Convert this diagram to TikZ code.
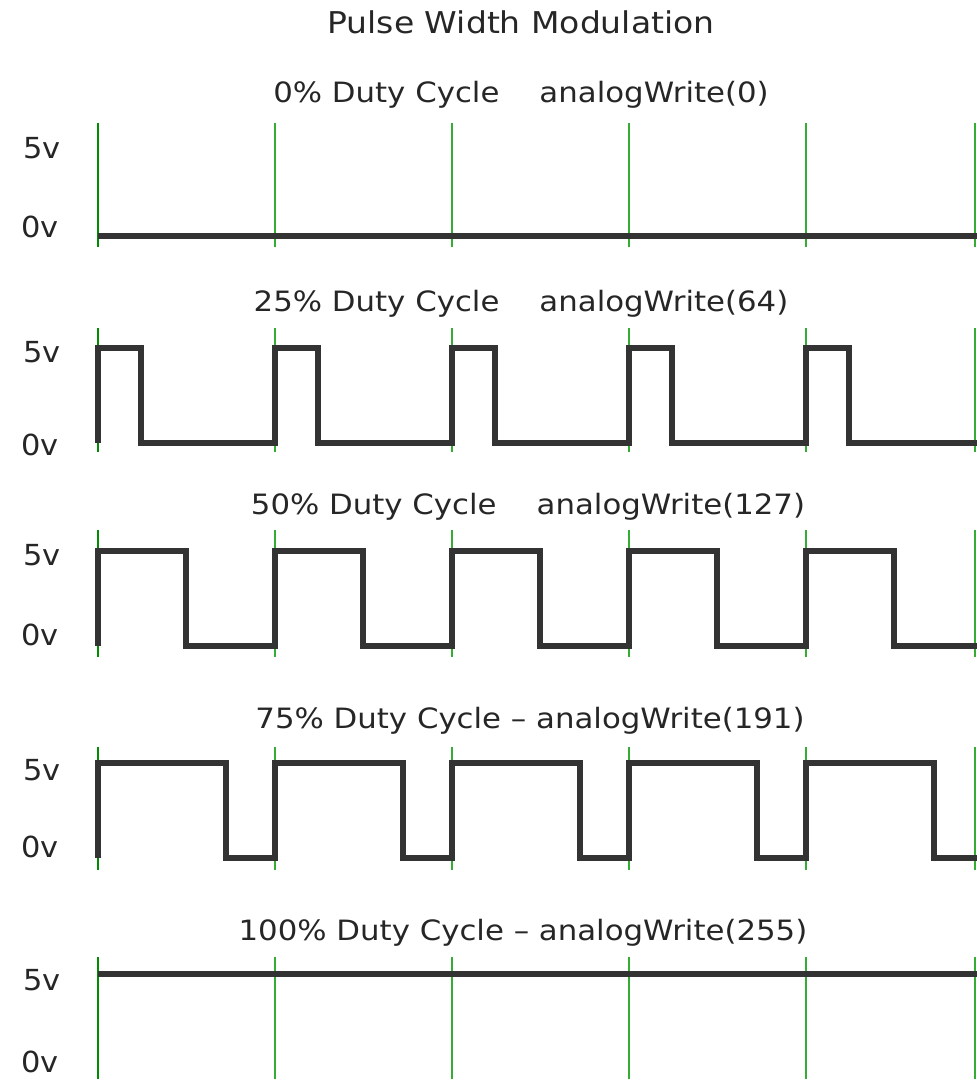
\documentclass[tikz,border=0pt]{standalone}
\usepackage{fontspec}
\setmainfont{DejaVu Sans}
\begin{document}
\begin{tikzpicture}[x=1pt,y=-1pt,
  grid/.style={draw=green!60!black!80, line width=1.4pt},
  gridfirst/.style={draw=green!55!black, line width=2.4pt},
  wave/.style={draw=black!80, line width=6pt, line join=miter},
  lbl/.style={font=\fontsize{28}{30}\selectfont, text=black!85, xscale=1.1, transform shape, inner sep=0pt},
  vlbl/.style={font=\fontsize{29}{31}\selectfont, text=black!85, xscale=1.05, transform shape, inner sep=0pt}]
\useasboundingbox (0,0) rectangle (979,1079);
\fill[white] (0,0) rectangle (979,1079);
\node[lbl, font=\fontsize{30}{32}\selectfont] (title) at (521,22) {Pulse Width Modulation};
% panels: grid top / grid bottom
\foreach \gt/\gb [count=\i] in {123/247, 328/452, 530/657, 747/870, 957/1079}{
  \draw[gridfirst] (98,\gt) -- (98,\gb);
  \foreach \x in {275,452,629,806,975}{
    \draw[grid] (\x,\gt) -- (\x,\gb);
  }
}
% labels 5v / 0v
\foreach \a/\b [count=\i] in {148/227, 352/445, 555/635, 770/847, 980/1062}{
  \node[vlbl] (h\i) at (42,\a) {5v};
  \node[vlbl] (l\i) at (40,\b) {0v};
}
\node[lbl] (t1) at (521,95) {0\% Duty Cycle\hspace{1.3em}analogWrite(0)};
\node[lbl] (t2) at (521,304) {25\% Duty Cycle\hspace{1.3em}analogWrite(64)};
\node[lbl] (t3) at (528,507) {50\% Duty Cycle\hspace{1.3em}analogWrite(127)};
\node[lbl] (t4) at (530,721) {75\% Duty Cycle -- analogWrite(191)};
\node[lbl] (t5) at (523,933) {100\% Duty Cycle -- analogWrite(255)};
% waveforms
\draw[wave] (98,236) -- (977,236);
\draw[wave] (98,443)
  \foreach \s in {98,275,452,629,806}{ -- (\s,443) -- (\s,348) -- ({\s+43},348) -- ({\s+43},443) } -- (977,443);
\draw[wave] (98,646)
  \foreach \s in {98,275,452,629,806}{ -- (\s,646) -- (\s,551) -- ({\s+88},551) -- ({\s+88},646) } -- (977,646);
\draw[wave] (98,858)
  \foreach \s in {98,275,452,629,806}{ -- (\s,858) -- (\s,763) -- ({\s+128},763) -- ({\s+128},858) } -- (977,858);
\draw[wave] (98,974) -- (977,974);
\end{tikzpicture}
\end{document}
